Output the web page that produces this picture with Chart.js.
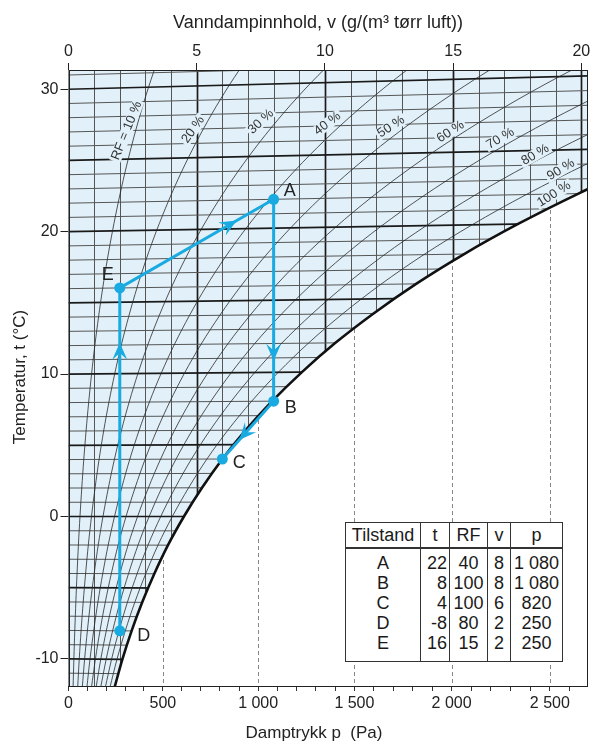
<!DOCTYPE html>
<html lang="no">
<head>
<meta charset="utf-8">
<title>Fuktdiagram</title>
<script src="https://cdn.jsdelivr.net/npm/chart.js@4.4.1/dist/chart.umd.min.js"></script>
<style>
  body { margin: 0; background: #fff; }
  #wrap { position: relative; width: 593px; height: 744px; }
  #tabell {
    position: absolute; left: 345px; top: 522px; width: 217px;
    border-collapse: collapse; background: #fff; table-layout: fixed;
    font-family: "Liberation Sans", Arial, sans-serif; font-size: 18px; color: #1a1a1a;
    border: 1px solid #333;
  }
  #tabell th, #tabell td {
    padding: 0 2px; border-left: 1px solid #333; border-right: 1px solid #333;
    font-weight: normal; line-height: 20px; text-align: center; white-space: nowrap;
  }
  #tabell th { height: 24px; border-bottom: 2px solid #333; }
  #tabell td.h { text-align: right; }
  #tabell tbody tr:first-child td { padding-top: 4px; }
  #tabell tbody tr:last-child td { padding-bottom: 8px; }
</style>
</head>
<body>
<div id="wrap">
  <canvas id="fukt" width="593" height="744"></canvas>
  <table id="tabell">
    <colgroup><col style="width:75px"><col style="width:29px"><col style="width:38px"><col style="width:23px"><col style="width:52px"></colgroup>
    <thead><tr><th>Tilstand</th><th>t</th><th>RF</th><th>v</th><th>p</th></tr></thead>
    <tbody></tbody>
  </table>
</div>
<script>
// Metningskurve: temperatur (°C) og metningstrykk (Pa), lest av diagrammet
const satT = [-12, -10, -8, -6, -4, -2, 0, 2, 4, 6, 8, 10, 12, 14, 16, 18, 20, 22, 24, 26, 28, 30, 32];
const satP = [244, 286, 335, 391, 455, 527, 611, 706, 813, 935, 1073, 1228, 1402, 1599, 1818, 2064, 2339, 2645, 2985, 3363, 3782, 4246, 4759];

// RF-kurver (%)
const rfNivaa = [10, 20, 30, 40, 50, 60, 70, 80, 90];
const rfTekst = ['RF = 10 %', '20 %', '30 %', '40 %', '50 %', '60 %', '70 %', '80 %', '90 %', '100 %'];

// Tabell over tilstander
const tilstander = ['A', 'B', 'C', 'D', 'E'];
const tilstandT = [22, 8, 4, -8, 16];
const tilstandRF = [40, 100, 100, 80, 15];
const tilstandV = [8, 8, 6, 2, 2];
const tilstandP = [1080, 1080, 820, 250, 250];
const prosessVei = [3, 4, 0, 1, 2]; // D -> E -> A -> B -> C

// Aksemerker
const pTicks = [0, 500, 1000, 1500, 2000, 2500];
const pTickLabels = ['0', '500', '1 000', '1 500', '2 000', '2 500'];
const vTicks = [0, 5, 10, 15, 20];
const tTicks = [-10, 0, 10, 20, 30];

// Diagrammets skala: v mot p, og skjev temperaturakse (Mollier)
const P0 = 101325, K = 742, skjev = 0.00154;
const vMax = 20.24, yMin = -11.9, yMax = 31.35;
function pTilV(p) { return K * p / (P0 - p); }
function yVerdi(t, v) { return t * (1 + skjev * v); }

function kurve(andel) {
  return satT.map((t, i) => {
    const v = pTilV(andel * satP[i]);
    return { x: v, y: yVerdi(t, v) };
  });
}

const pMinor = [];
for (let p = 0; p <= 2600; p += 100) pMinor.push(p);

// etikett-plassering (v, y, vinkel)
const rfEtikett = [
  [2.27, 27.09, -68], [4.86, 27.16, -55], [7.5, 27.72, -43], [10.1, 27.58, -37], [12.58, 27.37, -33],
  [14.9, 27.02, -33], [16.84, 26.53, -30], [18.2, 25.4, -30], [19.2, 24.35, -31], [18.93, 22.63, -32]
];
const punktEtikett = { A: [16, -8], B: [17, 7], C: [17, 4], D: [24, 5], E: [-12, -13] };
const piler = [
  { fra: 'D', til: 'E', ved: 0.84 },
  { fra: 'E', til: 'A', ved: 0.76 },
  { fra: 'A', til: 'B', ved: 0.80 },
  { fra: 'B', til: 'C', ved: 0.67 }
];

const BLAA = '#e2f1f9';
const CYAN = '#18aae0';
const FONT = '"Liberation Sans", Arial, sans-serif';

// tabell
const tb = document.querySelector('#tabell tbody');
tilstander.forEach((s, i) => {
  const p = tilstandP[i] >= 1000 ? String(tilstandP[i]).replace(/^(\d)/, '$1 ') : String(tilstandP[i]);
  const tr = document.createElement('tr');
  tr.innerHTML = '<td>' + s + '</td><td class="h">' + tilstandT[i] + '</td><td>' + tilstandRF[i] +
    '</td><td>' + tilstandV[i] + '</td><td>' + p + '</td>';
  tb.appendChild(tr);
});

const datasets = [
  {
    label: 'Prosess',
    data: prosessVei.map(i => ({ x: tilstandV[i], y: yVerdi(tilstandT[i], tilstandV[i]) })),
    showLine: true,
    borderColor: CYAN,
    borderWidth: 3,
    pointRadius: 5.5,
    pointBackgroundColor: CYAN,
    pointBorderWidth: 0,
    tension: 0
  },
  {
    label: 'RF = 100 %',
    data: kurve(1),
    showLine: true,
    borderColor: '#111',
    borderWidth: 2.6,
    pointRadius: 0,
    cubicInterpolationMode: 'monotone'
  }
];
rfNivaa.forEach(rf => {
  datasets.push({
    label: 'RF ' + rf,
    data: kurve(rf / 100),
    showLine: true,
    borderColor: '#2a2a2a',
    borderWidth: 0.8,
    pointRadius: 0,
    cubicInterpolationMode: 'monotone'
  });
});

// bakgrunn, rutenett og stiplede linjer
const bakgrunn = {
  id: 'bakgrunn',
  beforeDatasetsDraw(chart) {
    const { ctx, chartArea: a } = chart;
    const x = chart.scales.x, y = chart.scales.y;
    const meta = chart.getDatasetMeta(1);
    meta.dataset.updateControlPoints(a, 'x');
    const pts = meta.data;

    const blue = new Path2D();
    blue.moveTo(pts[0].x, a.bottom + 30);
    blue.lineTo(pts[0].x, pts[0].y);
    for (let i = 1; i < pts.length; i++) {
      const p0 = pts[i - 1], p1 = pts[i];
      blue.bezierCurveTo(p0.cp2x, p0.cp2y, p1.cp1x, p1.cp1y, p1.x, p1.y);
    }
    const last = pts[pts.length - 1];
    blue.lineTo(a.right + 60, last.y);
    blue.lineTo(a.right + 60, a.top - 30);
    blue.lineTo(a.left - 30, a.top - 30);
    blue.lineTo(a.left - 30, a.bottom + 30);
    blue.closePath();

    ctx.save();
    ctx.beginPath();
    ctx.rect(a.left, a.top, a.width, a.height);
    ctx.clip();
    ctx.fillStyle = BLAA;
    ctx.fill(blue);

    // rutenett i det blå feltet
    ctx.save();
    ctx.clip(blue);
    for (let v = 1; v <= 20; v++) {
      const px = Math.round(x.getPixelForValue(v)) + 0.5;
      ctx.beginPath();
      ctx.lineWidth = v % 5 ? 1 : 1.7;
      ctx.strokeStyle = v % 5 ? '#555' : '#1a1a1a';
      ctx.moveTo(px, a.top);
      ctx.lineTo(px, a.bottom);
      ctx.stroke();
    }
    for (let t = -11; t <= 31; t++) {
      ctx.beginPath();
      ctx.lineWidth = t % 5 ? 1 : 1.7;
      ctx.strokeStyle = t % 5 ? '#555' : '#1a1a1a';
      ctx.moveTo(a.left, y.getPixelForValue(yVerdi(t, 0)));
      ctx.lineTo(x.getPixelForValue(vMax), y.getPixelForValue(yVerdi(t, vMax)));
      ctx.stroke();
    }
    ctx.restore();

    // stiplede trykklinjer under metningskurven
    ctx.save();
    const ute = new Path2D();
    ute.rect(a.left, a.top, a.width, a.height);
    ute.addPath(blue);
    ctx.clip(ute, 'evenodd');
    ctx.setLineDash([4, 3]);
    ctx.strokeStyle = '#888';
    ctx.lineWidth = 1;
    pTicks.slice(1).forEach(p => {
      const px = Math.round(x.getPixelForValue(pTilV(p))) + 0.5;
      ctx.beginPath();
      ctx.moveTo(px, a.top);
      ctx.lineTo(px, a.bottom);
      ctx.stroke();
    });
    ctx.restore();
    ctx.restore();
  },
  afterDatasetsDraw(chart) {
    const { ctx, chartArea: a } = chart;
    const x = chart.scales.x, y = chart.scales.y;

    // RF-etiketter
    ctx.save();
    ctx.font = '13px ' + FONT;
    ctx.textAlign = 'center';
    ctx.textBaseline = 'middle';
    rfTekst.forEach((txt, i) => {
      const [v, yv, ang] = rfEtikett[i];
      ctx.save();
      ctx.translate(x.getPixelForValue(v), y.getPixelForValue(yv));
      ctx.rotate(ang * Math.PI / 180);
      const w = ctx.measureText(txt).width;
      ctx.fillStyle = BLAA;
      ctx.fillRect(-w / 2 - 2, -6, w + 4, 12);
      ctx.fillStyle = '#333';
      ctx.fillText(txt, 0, 0);
      ctx.restore();
    });
    ctx.restore();

    // piler og punktnavn
    const pm = chart.getDatasetMeta(0).data;
    const pix = {};
    prosessVei.forEach((si, k) => { pix[tilstander[si]] = pm[k]; });
    ctx.save();
    ctx.fillStyle = CYAN;
    piler.forEach(pl => {
      const p0 = pix[pl.fra], p1 = pix[pl.til];
      const dx = p1.x - p0.x, dy = p1.y - p0.y, len = Math.hypot(dx, dy);
      const ux = dx / len, uy = dy / len;
      const tx = p0.x + dx * pl.ved, ty = p0.y + dy * pl.ved;
      const L = 17, W = 7.5;
      ctx.beginPath();
      ctx.moveTo(tx, ty);
      ctx.lineTo(tx - L * ux - W * uy, ty - L * uy + W * ux);
      ctx.lineTo(tx - 0.6 * L * ux, ty - 0.6 * L * uy);
      ctx.lineTo(tx - L * ux + W * uy, ty - L * uy - W * ux);
      ctx.closePath();
      ctx.fill();
    });
    ctx.font = '18px ' + FONT;
    ctx.fillStyle = '#222';
    ctx.textAlign = 'center';
    ctx.textBaseline = 'middle';
    tilstander.forEach(s => {
      const o = punktEtikett[s];
      ctx.fillText(s, pix[s].x + o[0], pix[s].y + o[1]);
    });
    ctx.restore();

    // ramme
    ctx.save();
    ctx.strokeStyle = '#222';
    ctx.lineWidth = 1;
    ctx.strokeRect(Math.round(a.left) + 0.5, Math.round(a.top) + 0.5, Math.round(a.width) - 1, Math.round(a.height));
    ctx.restore();
  },
  afterDraw(chart) {
    const ctx = chart.ctx;
    ctx.save();
    ctx.fillStyle = '#222';
    ctx.textAlign = 'center';
    ctx.textBaseline = 'middle';
    ctx.font = '18px ' + FONT;
    ctx.fillText('Vanndampinnhold, v (g/(m\u00b3 t\u00f8rr luft))', 318, 23);
    ctx.font = '17px ' + FONT;
    ctx.fillText('Damptrykk p  (Pa)', 314, 733);
    ctx.translate(20, 377);
    ctx.rotate(-Math.PI / 2);
    ctx.fillText('Temperatur, t (\u00b0C)', 0, 0);
    ctx.restore();
  }
};

const tickFont = { family: FONT, size: 16 };

new Chart(document.getElementById('fukt'), {
  type: 'scatter',
  data: { datasets: datasets },
  plugins: [bakgrunn],
  options: {
    responsive: false,
    devicePixelRatio: 1,
    animation: false,
    events: [],
    layout: { padding: { right: 2 } },
    plugins: { legend: { display: false }, tooltip: { enabled: false } },
    scales: {
      x: {
        type: 'linear',
        position: 'bottom',
        min: 0,
        max: vMax,
        afterBuildTicks: s => { s.ticks = pMinor.map(p => ({ value: pTilV(p) })); },
        afterFit: s => { s.height = 58; },
        ticks: {
          autoSkip: false,
          maxRotation: 0,
          minRotation: 0,
          padding: 3,
          color: '#222',
          font: tickFont,
          callback: (val, i) => {
            const k = pTicks.indexOf(pMinor[i]);
            return k >= 0 ? pTickLabels[k] : '';
          }
        },
        grid: { drawOnChartArea: false, tickLength: 5, tickColor: '#333' },
        border: { display: true, color: '#222' }
      },
      x2: {
        type: 'linear',
        position: 'top',
        min: 0,
        max: vMax,
        afterBuildTicks: s => { s.ticks = vTicks.map(v => ({ value: v })); },
        afterFit: s => { s.height = 70; },
        ticks: { padding: 2, color: '#222', font: tickFont, maxRotation: 0, autoSkip: false },
        grid: { drawOnChartArea: false, tickLength: 7, tickColor: '#222' },
        border: { display: true, color: '#222' }
      },
      y: {
        type: 'linear',
        min: yMin,
        max: yMax,
        afterBuildTicks: s => { s.ticks = tTicks.map(t => ({ value: t })); },
        afterFit: s => { s.width = 68.5; },
        ticks: { padding: 2, color: '#222', font: tickFont, callback: v => String(v) },
        grid: { drawOnChartArea: false, tickLength: 8, tickColor: '#222' },
        border: { display: true, color: '#222' }
      }
    }
  }
});
</script>
</body>
</html>
